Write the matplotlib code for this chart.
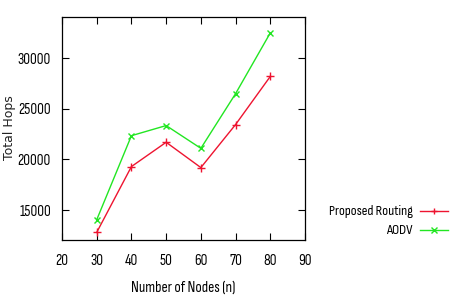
import matplotlib
matplotlib.use("Agg")
import matplotlib.pyplot as plt
from matplotlib.lines import Line2D

# datos
nodos = [30, 40, 50, 60, 70, 80]
propuesto = [12800, 19300, 21700, 19200, 23450, 28200]
aodv = [14050, 22350, 23350, 21100, 26500, 32500]

series = ["Proposed Routing", "AODV"]
x_ticks = [20, 30, 40, 50, 60, 70, 80, 90]
y_ticks = [15000, 20000, 25000, 30000]

fuente = "Sofia Sans Condensed"
rojo = "#ee1430"
verde = "#22e622"

fig = plt.figure(figsize=(4.53, 3.01), dpi=100)
ax = fig.add_axes([62 / 453, 61 / 301, 243 / 453, 223 / 301])

ax.plot(nodos, propuesto, color=rojo, lw=1.0, marker="+", ms=6, mew=1.0)
ax.plot(nodos, aodv, color=verde, lw=1.0, marker="x", ms=5, mew=1.0)

ax.set_xlim(20, 90)
ax.set_ylim(12050, 34070)
ax.set_xticks(x_ticks)
ax.set_yticks(y_ticks)
ax.tick_params(direction="in", top=True, right=True, length=5, width=0.8,
               labelsize=11)
ax.tick_params(axis="x", pad=10)
ax.tick_params(axis="y", pad=8)
for lab in ax.get_xticklabels() + ax.get_yticklabels():
    lab.set_family(fuente)
for s in ax.spines.values():
    s.set_linewidth(0.9)

ax.set_xlabel("Number of Nodes (n)", family=fuente, fontsize=11, labelpad=9)
fig.text(10 / 453, 1 - 128 / 301, "Total Hops", family="DejaVu Sans",
         fontsize=9, rotation=90, ha="center", va="center", color="#222222")

# leyenda fuera del grafico, texto alineado a la derecha
estilos = [(rojo, "+", 5), (verde, "x", 4)]
filas_y = [211, 230]
for nombre, (col, mk, ms), fy in zip(series, estilos, filas_y):
    y = 1 - fy / 301
    fig.text(413 / 453, y, nombre, family=fuente, fontsize=10.3,
             ha="right", va="center")
    fig.add_artist(Line2D([420 / 453, 448 / 453], [y, y], transform=fig.transFigure,
                          color=col, lw=1.0))
    fig.add_artist(Line2D([434 / 453], [y], transform=fig.transFigure,
                          color=col, marker=mk, ms=ms, mew=1.0, lw=0))

fig.savefig("out.png", dpi=100)
